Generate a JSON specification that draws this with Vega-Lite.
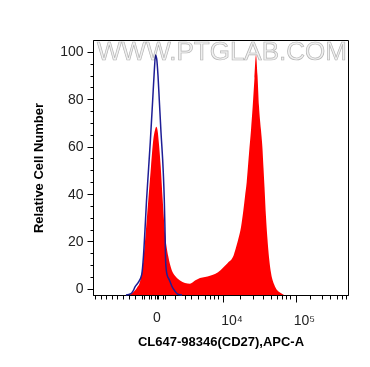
{
  "$schema": "https://vega.github.io/schema/vega-lite/v6.json",
  "width": 255,
  "height": 255,
  "autosize": {"type": "none"},
  "padding": {"left": 93, "top": 40, "right": 22, "bottom": 72},
  "background": "white",
  "config": {
    "view": {"stroke": "black", "strokeWidth": 1},
    "font": "Liberation Sans",
    "axis": {
      "grid": false,
      "domainColor": "black",
      "tickColor": "black",
      "labelFont": "Liberation Sans",
      "labelFontSize": 14,
      "labelColor": "#222222",
      "titleFont": "Liberation Sans",
      "titleFontSize": 13,
      "titleFontWeight": "bold",
      "titleColor": "black",
      "labelOverlap": false,
      "labelFlush": false
    }
  },
  "resolve": {"axis": {"x": "independent", "y": "independent"}},
  "datasets": {
    "sample": [
      {"ch": 140.5, "count": -2.6}, {"ch": 160.6, "count": -1.5}, {"ch": 176.7, "count": 0.5},
      {"ch": 188.7, "count": 3}, {"ch": 199.6, "count": 9.4}, {"ch": 204.8, "count": 15},
      {"ch": 211.6, "count": 23.6}, {"ch": 222.1, "count": 37.5}, {"ch": 232.9, "count": 51.6},
      {"ch": 242.1, "count": 62.9}, {"ch": 249.0, "count": 67}, {"ch": 254.2, "count": 68.4},
      {"ch": 259.0, "count": 67}, {"ch": 265.0, "count": 61}, {"ch": 271.9, "count": 51.6},
      {"ch": 279.9, "count": 37.5}, {"ch": 289.1, "count": 23.6}, {"ch": 302.4, "count": 13.6},
      {"ch": 316.0, "count": 8}, {"ch": 329.3, "count": 5.5}, {"ch": 349.4, "count": 3.5},
      {"ch": 369.4, "count": 2.5}, {"ch": 389.5, "count": 2.2}, {"ch": 409.6, "count": 3.5},
      {"ch": 429.7, "count": 4.6}, {"ch": 449.8, "count": 5}, {"ch": 469.8, "count": 5.5},
      {"ch": 481.9, "count": 5.9}, {"ch": 502.0, "count": 7}, {"ch": 522.0, "count": 8.9},
      {"ch": 542.1, "count": 11}, {"ch": 562.2, "count": 13.5}, {"ch": 570.2, "count": 16},
      {"ch": 583.5, "count": 21}, {"ch": 594.3, "count": 26}, {"ch": 603.6, "count": 33},
      {"ch": 610.4, "count": 39}, {"ch": 617.2, "count": 45}, {"ch": 626.4, "count": 57},
      {"ch": 634.5, "count": 67}, {"ch": 641.3, "count": 77}, {"ch": 648.5, "count": 89},
      {"ch": 654.6, "count": 98.7}, {"ch": 660.6, "count": 90}, {"ch": 666.6, "count": 77},
      {"ch": 674.6, "count": 67}, {"ch": 680.7, "count": 59}, {"ch": 684.7, "count": 51},
      {"ch": 688.7, "count": 43}, {"ch": 694.7, "count": 30.4}, {"ch": 699.9, "count": 22},
      {"ch": 704.0, "count": 16.5}, {"ch": 714.8, "count": 6.8}, {"ch": 728.0, "count": 1.7},
      {"ch": 738.9, "count": -0.5}, {"ch": 750.9, "count": -1.5}, {"ch": 767.0, "count": -2.6}
    ],
    "control": [
      {"ch": 132.5, "count": -2.6}, {"ch": 152.6, "count": -2}, {"ch": 160.6, "count": -1},
      {"ch": 168.7, "count": 0.8}, {"ch": 180.7, "count": 2.5}, {"ch": 195.6, "count": 6},
      {"ch": 202.8, "count": 14}, {"ch": 208.8, "count": 25}, {"ch": 214.8, "count": 37},
      {"ch": 222.1, "count": 49}, {"ch": 230.1, "count": 62}, {"ch": 239.7, "count": 79.7},
      {"ch": 246.2, "count": 92}, {"ch": 251.0, "count": 98.7}, {"ch": 255.8, "count": 97},
      {"ch": 261.0, "count": 90}, {"ch": 266.2, "count": 79.7}, {"ch": 273.1, "count": 66},
      {"ch": 282.3, "count": 49}, {"ch": 286.3, "count": 37.5}, {"ch": 289.1, "count": 25},
      {"ch": 291.9, "count": 11}, {"ch": 297.2, "count": 6}, {"ch": 306.4, "count": 3.8},
      {"ch": 317.2, "count": 1}, {"ch": 329.3, "count": -1}, {"ch": 341.3, "count": -2.3},
      {"ch": 357.4, "count": -2.6}
    ],
    "mark": [{"label": "WWW.PTGLAB.COM"}]
  },
  "layer": [
    {
      "data": {"name": "sample"},
      "mark": {"type": "area", "color": "#ff0000", "interpolate": "monotone", "opacity": 1},
      "encoding": {
        "x": {
          "field": "ch", "type": "quantitative",
          "scale": {"domain": [0, 1024], "nice": false, "zero": false},
          "axis": {
            "title": "CL647-98346(CD27),APC-A",
            "titlePadding": 8,
            "values": [6.8, 30.9, 53.4, 76.3, 97.6, 120.5, 143.4, 167.5, 196.8, 204.8, 222.9, 232.9, 248.9, 255, 261, 283.1, 291.1, 329.3, 368.2, 394.7, 421.6, 448.6, 468.6, 485.9, 502, 524, 590.3, 642.5, 681.5, 713.6, 737.7, 757.8, 775, 791.1, 815, 871.4, 918.4, 951.7, 978.6, 998.7, 1016],
            "labelExpr": "datum.value == 255 ? '0' : datum.value == 524 ? '10⁴' : datum.value == 815 ? '10⁵' : ''",
            "labelOffset": {"condition": {"test": "datum.value == 255", "value": 0}, "value": 8},
            "labelPadding": 11,
            "tickSize": {"condition": {"test": "datum.value == 524 || datum.value == 815", "value": 7}, "value": 4}
          }
        },
        "y": {
          "field": "count", "type": "quantitative",
          "scale": {"domain": [-2.6, 105], "nice": false, "zero": false},
          "axis": {
            "title": "Relative Cell Number",
            "titlePadding": 14,
            "values": [0, 5, 10, 15, 20, 25, 30, 35, 40, 45, 50, 55, 60, 65, 70, 75, 80, 85, 90, 95, 100],
            "labelExpr": "datum.value % 20 == 0 ? datum.label : ''",
            "tickSize": {"condition": {"test": "datum.value % 20 == 0", "value": 6}, "value": 3},
            "labelPadding": 4
          }
        },
        "y2": {"datum": -2.6}
      }
    },
    {
      "data": {"name": "control"},
      "mark": {"type": "line", "color": "#1e1e96", "strokeWidth": 1.5, "interpolate": "monotone"},
      "encoding": {
        "x": {"field": "ch", "type": "quantitative", "axis": null},
        "y": {"field": "count", "type": "quantitative", "axis": null}
      }
    },
    {
      "data": {"name": "mark"},
      "mark": {"type": "text", "fontSize": 26, "font": "Liberation Sans", "fill": "#f0f0f0", "stroke": "#b5b5b5", "strokeWidth": 0.7, "align": "center", "baseline": "middle", "blend": "multiply"},
      "encoding": {
        "x": {"datum": 518, "type": "quantitative", "axis": null},
        "y": {"datum": 99.8, "type": "quantitative", "axis": null},
        "text": {"field": "label"}
      }
    }
  ]
}
